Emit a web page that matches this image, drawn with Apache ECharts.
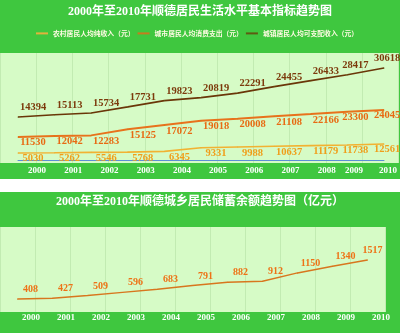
<!DOCTYPE html>
<html>
<head>
<meta charset="utf-8">
<script src="https://cdn.jsdelivr.net/npm/echarts@6/dist/echarts.min.js"></script>
<style>
  html, body { margin: 0; padding: 0; background: #fff; }
  #wrap { position: relative; width: 400px; height: 333px; overflow: hidden; background: #fff; }
  .panel { position: absolute; left: 0; width: 400px; background: #3fc73f; }
  #chart { position: absolute; left: 0; top: 0; width: 400px; height: 333px; }
</style>
</head>
<body>
<div id="wrap">
  <div class="panel" style="top:0;height:179px"></div>
  <div class="panel" style="top:192px;height:141px"></div>
  <div id="chart"></div>
</div>
<script>
// Years shown on both panels
const years = ['2000', '2001', '2002', '2003', '2004', '2005', '2006', '2007', '2008', '2009', '2010'];

// Living-standard indicators (yuan)
const ruralNetIncome = [5030, 5262, 5546, 5768, 6345, 9331, 9988, 10637, 11179, 11738, 12561];
const urbanConsumption = [11530, 12042, 12283, 15125, 17072, 19018, 20008, 21108, 22166, 23300, 24045];
const urbanDisposable = [14394, 15113, 15734, 17731, 19823, 20819, 22291, 24455, 26433, 28417, 30618];

// Savings balance of urban and rural residents (100 million yuan)
const savingsBalance = [408, 427, 509, 596, 683, 791, 882, 912, 1150, 1340, 1517];

const titleTop = '2000年至2010年顺德居民生活水平基本指标趋势图';
const titleBottom = '2000年至2010年顺德城乡居民储蓄余额趋势图（亿元）';
const seriesNames = ['农村居民人均纯收入（元）', '城市居民人均消费支出（元）', '城镇居民人均可支配收入（元）'];

const SERIF = '"Liberation Serif", "Noto Sans CJK SC", serif';
const PALE = '#d6fbc6';
const GRIDLINE = '#c2ebb2';

// horizontal nudge of value labels to the right of their points
function topValueShift(i) { return i < 9 ? 15 : (i === 9 ? 8 : 3); }
function bottomValueShift(i) { return i < 10 ? 13 : 5; }

function withShift(values, shiftFn) {
  return values.map((v, i) => ({ value: v, label: { offset: [shiftFn(i), 0] } }));
}

const yearRichTop = {
  a: { padding: [0, 0, 0, 38], color: '#fff', fontWeight: 'bold', fontSize: 9, fontFamily: SERIF },
  b: { padding: [0, 0, 0, 20], color: '#fff', fontWeight: 'bold', fontSize: 9, fontFamily: SERIF },
  c: { padding: [0, 0, 0, 16], color: '#fff', fontWeight: 'bold', fontSize: 9, fontFamily: SERIF }
};
const yearRichBottom = {
  a: { padding: [0, 0, 0, 27], color: '#fff', fontWeight: 'bold', fontSize: 9, fontFamily: SERIF }
};

const chart = echarts.init(document.getElementById('chart'), null, { renderer: 'canvas' });

const labelBase = { show: true, fontFamily: SERIF, fontWeight: 'bold', fontSize: 10.5 };

chart.setOption({
  animation: false,
  title: [
    { text: titleTop, left: 'center', top: 1,
      textStyle: { color: '#fff', fontSize: 12, fontWeight: 'bold', fontFamily: SERIF } },
    { text: titleBottom, left: 'center', top: 191,
      textStyle: { color: '#fff', fontSize: 12, fontWeight: 'bold', fontFamily: SERIF } }
  ],
  legend: {
    data: seriesNames,
    left: 31, top: 25,
    icon: 'rect', itemWidth: 12, itemHeight: 2, itemGap: 3,
    textStyle: { color: '#fffbe4', fontSize: 6.8, fontWeight: 'bold', fontFamily: '"Noto Sans CJK SC", sans-serif' }
  },
  grid: [
    { left: 0, right: 0, top: 53, height: 110, show: true, backgroundColor: PALE, borderWidth: 0 },
    { left: 18, right: 16, top: 53, height: 108 },
    { left: 0, right: 15, top: 227, height: 85, show: true, backgroundColor: PALE, borderWidth: 0 }
  ],
  xAxis: [
    { gridIndex: 0, type: 'category', data: years, boundaryGap: true,
      axisLine: { show: false }, axisTick: { show: false },
      splitLine: { show: true, lineStyle: { color: GRIDLINE, width: 1 } },
      axisLabel: { interval: 0, margin: 3,
        formatter: (v, i) => '{' + (i < 9 ? 'a' : (i === 9 ? 'b' : 'c')) + '|' + v + '}',
        rich: yearRichTop } },
    { gridIndex: 1, type: 'category', data: years, boundaryGap: false,
      axisLine: { show: true, lineStyle: { color: '#5b8fd6', width: 1 } },
      axisTick: { show: false }, axisLabel: { show: false }, splitLine: { show: false } },
    { gridIndex: 2, type: 'category', data: years, boundaryGap: true,
      axisLine: { show: false }, axisTick: { show: false },
      splitLine: { show: true, lineStyle: { color: GRIDLINE, width: 1 } },
      axisLabel: { interval: 0, margin: 1,
        formatter: (v) => '{a|' + v + '}', rich: yearRichBottom } }
  ],
  yAxis: [
    { gridIndex: 0, type: 'value', show: false },
    { gridIndex: 1, type: 'value', min: -200, max: 35600, show: false },
    { gridIndex: 1, type: 'value', min: 400, max: 50500, show: false },
    { gridIndex: 1, type: 'value', min: -1700, max: 88700, show: false },
    { gridIndex: 2, type: 'value', min: 38, max: 2455, show: false }
  ],
  series: [
    { name: seriesNames[0], type: 'line', xAxisIndex: 1, yAxisIndex: 3,
      data: withShift(ruralNetIncome, topValueShift),
      symbol: 'circle', symbolSize: 1, showSymbol: true,
      itemStyle: { color: '#e2b23c' },
      lineStyle: { color: '#f2b232', width: 1.6 },
      label: Object.assign({}, labelBase, { position: 'bottom', distance: 0, color: '#f09e1a' }) },
    { name: seriesNames[1], type: 'line', xAxisIndex: 1, yAxisIndex: 2,
      data: withShift(urbanConsumption, topValueShift),
      symbol: 'circle', symbolSize: 1, showSymbol: true,
      itemStyle: { color: '#c67c1e' },
      lineStyle: { color: '#e8721c', width: 2 },
      label: Object.assign({}, labelBase, { position: 'bottom', distance: 0, color: '#e86a12' }) },
    { name: seriesNames[2], type: 'line', xAxisIndex: 1, yAxisIndex: 1,
      data: withShift(urbanDisposable, topValueShift),
      symbol: 'circle', symbolSize: 1, showSymbol: true,
      itemStyle: { color: '#5e5a12' },
      lineStyle: { color: '#6a3608', width: 1.6 },
      label: Object.assign({}, labelBase, { position: 'top', distance: 4, color: '#7c3a0c' }) },
    { name: '储蓄余额', type: 'line', xAxisIndex: 2, yAxisIndex: 4,
      data: withShift(savingsBalance, bottomValueShift),
      symbol: 'circle', symbolSize: 1, showSymbol: true,
      itemStyle: { color: '#d8761e' },
      lineStyle: { color: '#d8761e', width: 1.5 },
      label: Object.assign({}, labelBase, { position: 'top', distance: 4, fontSize: 10, color: '#ee7216' }) }
  ]
});
</script>
</body>
</html>
